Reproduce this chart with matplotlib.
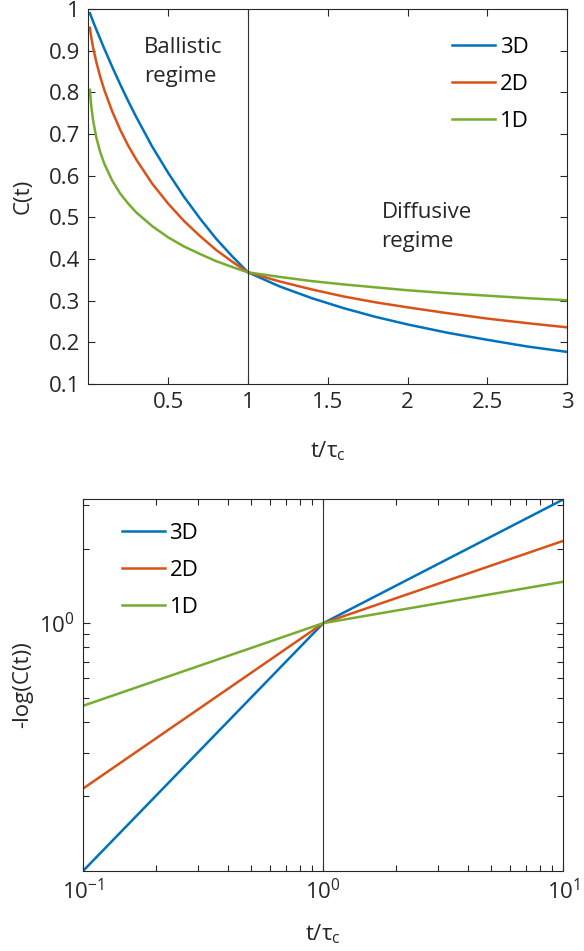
import matplotlib
matplotlib.use("Agg")
import matplotlib.pyplot as plt
from matplotlib.ticker import FixedLocator, NullFormatter

plt.rcParams["font.family"] = ["Open Sans", "DejaVu Sans"]
plt.rcParams["mathtext.fontset"] = "custom"
plt.rcParams["mathtext.rm"] = "Open Sans"
plt.rcParams["mathtext.it"] = "Open Sans"

# top panel: C(t)
t_lin = [0.01, 0.015, 0.02, 0.03, 0.05, 0.075, 0.1, 0.15, 0.2, 0.25, 0.3, 0.4,
         0.5, 0.6, 0.7, 0.8, 0.9, 1.0, 1.2, 1.4, 1.6, 1.8, 2.0, 2.25, 2.5, 2.75, 3.0]
c_3d = [0.990, 0.985, 0.980, 0.970, 0.951, 0.928, 0.905, 0.861, 0.819, 0.779, 0.741, 0.670,
        0.607, 0.549, 0.497, 0.449, 0.407, 0.368, 0.334, 0.306, 0.282, 0.261, 0.243, 0.223,
        0.206, 0.190, 0.177]
c_2d = [0.955, 0.941, 0.929, 0.908, 0.873, 0.837, 0.806, 0.754, 0.710, 0.672, 0.639, 0.581,
        0.533, 0.491, 0.455, 0.422, 0.394, 0.368, 0.346, 0.327, 0.310, 0.296, 0.284, 0.270,
        0.257, 0.246, 0.236]
c_1d = [0.806, 0.781, 0.762, 0.733, 0.692, 0.656, 0.629, 0.588, 0.557, 0.533, 0.512, 0.479,
        0.452, 0.430, 0.412, 0.395, 0.381, 0.368, 0.357, 0.347, 0.339, 0.332, 0.325, 0.318,
        0.312, 0.306, 0.301]

# bottom panel: -log(C(t)) on log-log axes
t_log = [0.1, 1.0, 10.0]
nlc_3d = [0.1, 1.0, 3.16]
nlc_2d = [0.215, 1.0, 2.15]
nlc_1d = [0.464, 1.0, 1.47]

labels = ["3D", "2D", "1D"]
colors = ["#0072BD", "#D95319", "#77AC30"]
axis_col = "#262626"
fs = 16


def style_axes(ax):
    for sp in ax.spines.values():
        sp.set_color(axis_col)
        sp.set_linewidth(0.8)
    ax.tick_params(which="both", direction="in", top=True, right=True,
                   width=0.8, colors=axis_col, labelsize=fs, pad=6)
    ax.tick_params(which="major", length=5)
    ax.tick_params(which="minor", length=4)


fig = plt.figure(figsize=(5.84, 9.51), dpi=100)
ax1 = fig.add_axes([0.1512, 0.5962, 0.8202, 0.3943])
ax2 = fig.add_axes([0.1426, 0.0844, 0.8219, 0.3905])

#top panel
for ys, lab, col in zip([c_3d, c_2d, c_1d], labels, colors):
    ax1.plot(t_lin, ys, color=col, lw=1.8, label=lab)
ax1.axvline(1.0, color="#333333", lw=0.8)
ax1.set_xlim(0, 3)
ax1.set_ylim(0.1, 1.0)
ax1.set_xticks([0.5, 1, 1.5, 2, 2.5, 3])
ax1.set_xticklabels(["0.5", "1", "1.5", "2", "2.5", "3"])
ax1.set_yticks([0.1, 0.2, 0.3, 0.4, 0.5, 0.6, 0.7, 0.8, 0.9, 1.0])
ax1.set_yticklabels(["0.1", "0.2", "0.3", "0.4", "0.5", "0.6", "0.7", "0.8", "0.9", "1"])
style_axes(ax1)
ax1.set_xlabel(r"$\mathregular{t/\tau_c}$", fontsize=fs, color=axis_col)
ax1.set_ylabel("C(t)", fontsize=fs, color=axis_col)
ax1.xaxis.set_label_coords(0.5, -0.148)
ax1.yaxis.set_label_coords(-0.115, 0.5)
ax1.text(0.349, 0.872, "Ballistic\nregime", fontsize=fs, color=axis_col,
         ha="left", va="center", linespacing=1.5)
ax1.text(1.837, 0.478, "Diffusive\nregime", fontsize=fs, color=axis_col,
         ha="left", va="center", linespacing=1.5)
ax1.legend(loc="upper left", bbox_to_anchor=(0.759, 0.925), frameon=False,
           fontsize=fs, handlelength=1.95, handletextpad=0.2, labelspacing=0.72,
           borderpad=0, borderaxespad=0)

#bottom panel
for ys, lab, col in zip([nlc_3d, nlc_2d, nlc_1d], labels, colors):
    ax2.plot(t_log, ys, color=col, lw=1.8, label=lab)
ax2.axvline(1.0, color="#333333", lw=0.8)
ax2.set_xscale("log")
ax2.set_yscale("log")
ax2.set_xlim(0.1, 10)
ax2.set_ylim(0.1, 3.162)
ax2.xaxis.set_major_locator(FixedLocator([0.1, 1, 10]))
ax2.set_xticklabels([r"$\mathregular{10^{-1}}$", r"$\mathregular{10^{0}}$", r"$\mathregular{10^{1}}$"])
ax2.xaxis.set_minor_locator(FixedLocator([0.2, 0.3, 0.4, 0.5, 0.6, 0.7, 0.8, 0.9,
                                          2, 3, 4, 5, 6, 7, 8, 9]))
ax2.xaxis.set_minor_formatter(NullFormatter())
ax2.yaxis.set_major_locator(FixedLocator([1]))
ax2.set_yticklabels([r"$\mathregular{10^{0}}$"])
ax2.yaxis.set_minor_locator(FixedLocator([0.2, 0.3, 0.4, 0.5, 0.6, 0.7, 0.8, 0.9, 2, 3]))
ax2.yaxis.set_minor_formatter(NullFormatter())
style_axes(ax2)
ax2.set_xlabel(r"$\mathregular{t/\tau_c}$", fontsize=fs, color=axis_col)
ax2.set_ylabel("-log(C(t))", fontsize=fs, color=axis_col)
ax2.xaxis.set_label_coords(0.5, -0.14)
ax2.yaxis.set_label_coords(-0.105, 0.5)
ax2.legend(loc="upper left", bbox_to_anchor=(0.080, 0.937), frameon=False,
           fontsize=fs, handlelength=1.95, handletextpad=0.2, labelspacing=0.72,
           borderpad=0, borderaxespad=0)

fig.savefig("out.png", dpi=100)
